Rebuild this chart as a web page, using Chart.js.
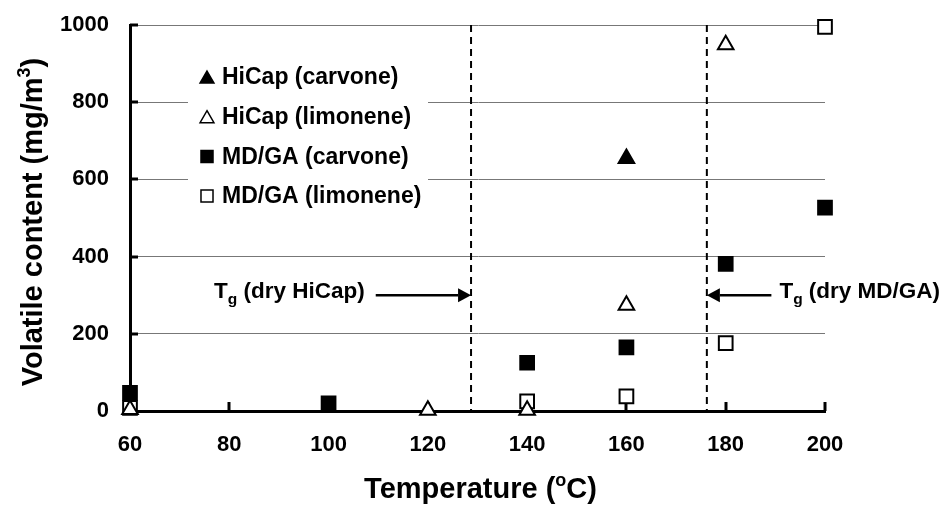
<!DOCTYPE html>
<html>
<head>
<meta charset="utf-8">
<script src="https://cdn.jsdelivr.net/npm/chart.js@4"></script>
<style>
    html, body { margin: 0; background: #fff; }
    #wrap { width: 944px; height: 515px; }
</style>
</head>
<body>
<div id="wrap"><canvas id="chart" width="944" height="515"></canvas></div>
<script>
// Volatile content vs. temperature, HiCap and MD/GA powders

// --- data ---
const hicapCarvoneX = [160]
const hicapCarvoneY = [654]
const hicapLimoneneX = [60, 120, 140, 160, 180]
const hicapLimoneneY = [4, 2, 2, 274, 949]
const mdgaCarvoneX = [60, 100, 140, 160, 180, 200]
const mdgaCarvoneY = [47, 20, 125, 165, 381, 527]
const mdgaLimoneneX = [60, 140, 160, 180, 200]
const mdgaLimoneneY = [8, 25, 38, 176, 995]

const seriesNames = ["HiCap (carvone)", "HiCap (limonene)", "MD/GA (carvone)", "MD/GA (limonene)"]

// glass transition temperatures (dashed lines) and their labels
const tgTemps = [128.7, 176.2]
const tgLabels = [" (dry HiCap)", " (dry MD/GA)"]
const tgArrowTails = [109.5, 189.2]
const tgArrowLevel = 300

const xTicks = { min: 60, max: 200, step: 20 }
const yTicks = { min: 0, max: 1000, step: 200 }

const FONT = "'Liberation Sans', Arial, Helvetica, sans-serif"

function toPoints(xs, ys) {
    return xs.map((x, i) => ({ x: x, y: ys[i] }))
}

function richWidth(ctx, parts) {
    let w = 0
    for (const p of parts) {
        ctx.font = "bold " + p.size + "px " + FONT
        w += ctx.measureText(p.text).width
    }
    return w
}

// draw text made of pieces (for super/subscripts), y is the baseline
function drawRich(ctx, parts, x, y, align) {
    const w = richWidth(ctx, parts)
    let cx = x
    if (align == "center") cx = x - w / 2
    if (align == "right") cx = x - w
    ctx.textAlign = "left"
    ctx.textBaseline = "alphabetic"
    for (const p of parts) {
        ctx.font = "bold " + p.size + "px " + FONT
        ctx.fillText(p.text, cx, y + (p.dy || 0))
        cx += ctx.measureText(p.text).width
    }
}

function drawArrow(ctx, x0, x1, y) {
    const dir = x1 > x0 ? 1 : -1
    const head = 13
    ctx.beginPath()
    ctx.moveTo(x0, y)
    ctx.lineTo(x1 - dir * head, y)
    ctx.lineWidth = 2.5
    ctx.stroke()
    ctx.beginPath()
    ctx.moveTo(x1, y)
    ctx.lineTo(x1 - dir * head, y - 7)
    ctx.lineTo(x1 - dir * head, y + 7)
    ctx.closePath()
    ctx.fill()
}

const markerStyles = [
    { pointStyle: "triangle", fill: "#000", r: 9, lr: 8 },
    { pointStyle: "triangle", fill: "#fff", r: 9, lr: 8 },
    { pointStyle: "rect", fill: "#000", r: 9.7, lr: 8.5 },
    { pointStyle: "rect", fill: "#fff", r: 9.7, lr: 8.5 },
]

const extras = {
    id: "extras",
    beforeDatasetsDraw(chart) {
        const ctx = chart.ctx
        const a = chart.chartArea
        const x = chart.scales.x
        const y = chart.scales.y
        ctx.save()
        ctx.strokeStyle = "#000"
        ctx.fillStyle = "#000"

        // inward tick marks
        ctx.lineWidth = 3
        for (let v = yTicks.min + yTicks.step; v <= yTicks.max; v += yTicks.step) {
            const py = Math.round(y.getPixelForValue(v))
            ctx.beginPath()
            ctx.moveTo(a.left, py)
            ctx.lineTo(a.left + 8, py)
            ctx.stroke()
        }
        for (let v = xTicks.min + xTicks.step; v <= xTicks.max; v += xTicks.step) {
            const px = Math.round(x.getPixelForValue(v))
            ctx.beginPath()
            ctx.moveTo(px, a.bottom)
            ctx.lineTo(px, a.bottom - 9)
            ctx.stroke()
        }

        // dashed Tg lines
        ctx.lineWidth = 2
        ctx.setLineDash([7, 5])
        for (const t of tgTemps) {
            const px = x.getPixelForValue(t)
            ctx.beginPath()
            ctx.moveTo(px, a.top)
            ctx.lineTo(px, a.bottom)
            ctx.stroke()
        }
        ctx.setLineDash([])

        // arrows and Tg labels
        const ay = y.getPixelForValue(tgArrowLevel)
        for (let i = 0; i < tgTemps.length; i++) {
            const tip = x.getPixelForValue(tgTemps[i])
            const tail = x.getPixelForValue(tgArrowTails[i])
            drawArrow(ctx, tail, tip, ay)
            const parts = [
                { text: "T", size: 22.5 },
                { text: "g", size: 15.5, dy: 6 },
                { text: tgLabels[i], size: 22.5 },
            ]
            if (tail < tip) drawRich(ctx, parts, tail - 11, ay + 3, "right")
            else drawRich(ctx, parts, tail + 8, ay + 3, "left")
        }

        // legend box inside the plot
        const lx = a.left + 58
        const ly = a.top + 28
        ctx.fillStyle = "#fff"
        ctx.fillRect(lx, ly, 240, 160)
        for (let i = 0; i < seriesNames.length; i++) {
            const m = markerStyles[i]
            const cy = ly + 24 + i * 39.7
            ctx.fillStyle = m.fill
            ctx.strokeStyle = "#000"
            ctx.lineWidth = 1.5
            const dy = m.pointStyle == "triangle" ? 2 : 0
            Chart.helpers.drawPoint(ctx, { pointStyle: m.pointStyle, radius: m.lr, borderWidth: 1.5, rotation: 0 }, lx + 19, cy + dy)
            ctx.fillStyle = "#000"
            ctx.font = "bold 23px " + FONT
            ctx.textAlign = "left"
            ctx.textBaseline = "middle"
            ctx.fillText(seriesNames[i], lx + 34, cy + 1)
        }
        ctx.restore()
    },
    afterDraw(chart) {
        const ctx = chart.ctx
        const a = chart.chartArea
        ctx.save()
        ctx.fillStyle = "#000"
        // x title
        drawRich(ctx, [
            { text: "Temperature (", size: 29 },
            { text: "o", size: 18, dy: -12 },
            { text: "C)", size: 29 },
        ], (a.left + a.right) / 2 + 3, 498, "center")
        // y title
        ctx.translate(42, (a.top + a.bottom) / 2 + 4)
        ctx.rotate(-Math.PI / 2)
        drawRich(ctx, [
            { text: "Volatile content (mg/m", size: 29 },
            { text: "3", size: 18, dy: -12 },
            { text: ")", size: 29 },
        ], 0, 0, "center")
        ctx.restore()
    }
}

const datasets = []
const xsList = [hicapCarvoneX, hicapLimoneneX, mdgaCarvoneX, mdgaLimoneneX]
const ysList = [hicapCarvoneY, hicapLimoneneY, mdgaCarvoneY, mdgaLimoneneY]
for (let i = 0; i < seriesNames.length; i++) {
    const m = markerStyles[i]
    datasets.push({
        label: seriesNames[i],
        data: toPoints(xsList[i], ysList[i]),
        showLine: false,
        pointStyle: m.pointStyle,
        pointRadius: m.r,
        pointHoverRadius: m.r,
        pointBorderWidth: 2,
        pointBackgroundColor: m.fill,
        pointBorderColor: "#000",
        clip: false,
    })
}

const tickFont = { family: FONT, size: 22, weight: "bold" }

new Chart(document.getElementById("chart"), {
    type: "scatter",
    data: { datasets: datasets },
    options: {
        responsive: false,
        animation: false,
        devicePixelRatio: 1,
        layout: { padding: { top: 25, right: 119, left: 0, bottom: 0 } },
        plugins: {
            legend: { display: false },
            tooltip: { enabled: false },
        },
        scales: {
            x: {
                type: "linear",
                min: xTicks.min,
                max: xTicks.max,
                ticks: { stepSize: xTicks.step, padding: 21, color: "#000", font: tickFont },
                grid: { drawOnChartArea: false, drawTicks: false },
                border: { display: true, color: "#000", width: 3 },
                afterFit(scale) {
                    scale.height = 104
                    scale.paddingLeft = 0
                    scale.paddingRight = 0
                },
            },
            y: {
                min: yTicks.min,
                max: yTicks.max,
                ticks: {
                    stepSize: yTicks.step, padding: 21, color: "#000", font: tickFont,
                    callback: (v) => String(v),
                },
                grid: { color: "#777", lineWidth: 1, drawTicks: false },
                border: { display: true, color: "#000", width: 3 },
                afterFit(scale) {
                    scale.width = 130
                    scale.paddingTop = 0
                    scale.paddingBottom = 0
                },
            },
        },
    },
    plugins: [extras],
})
</script>
</body>
</html>
